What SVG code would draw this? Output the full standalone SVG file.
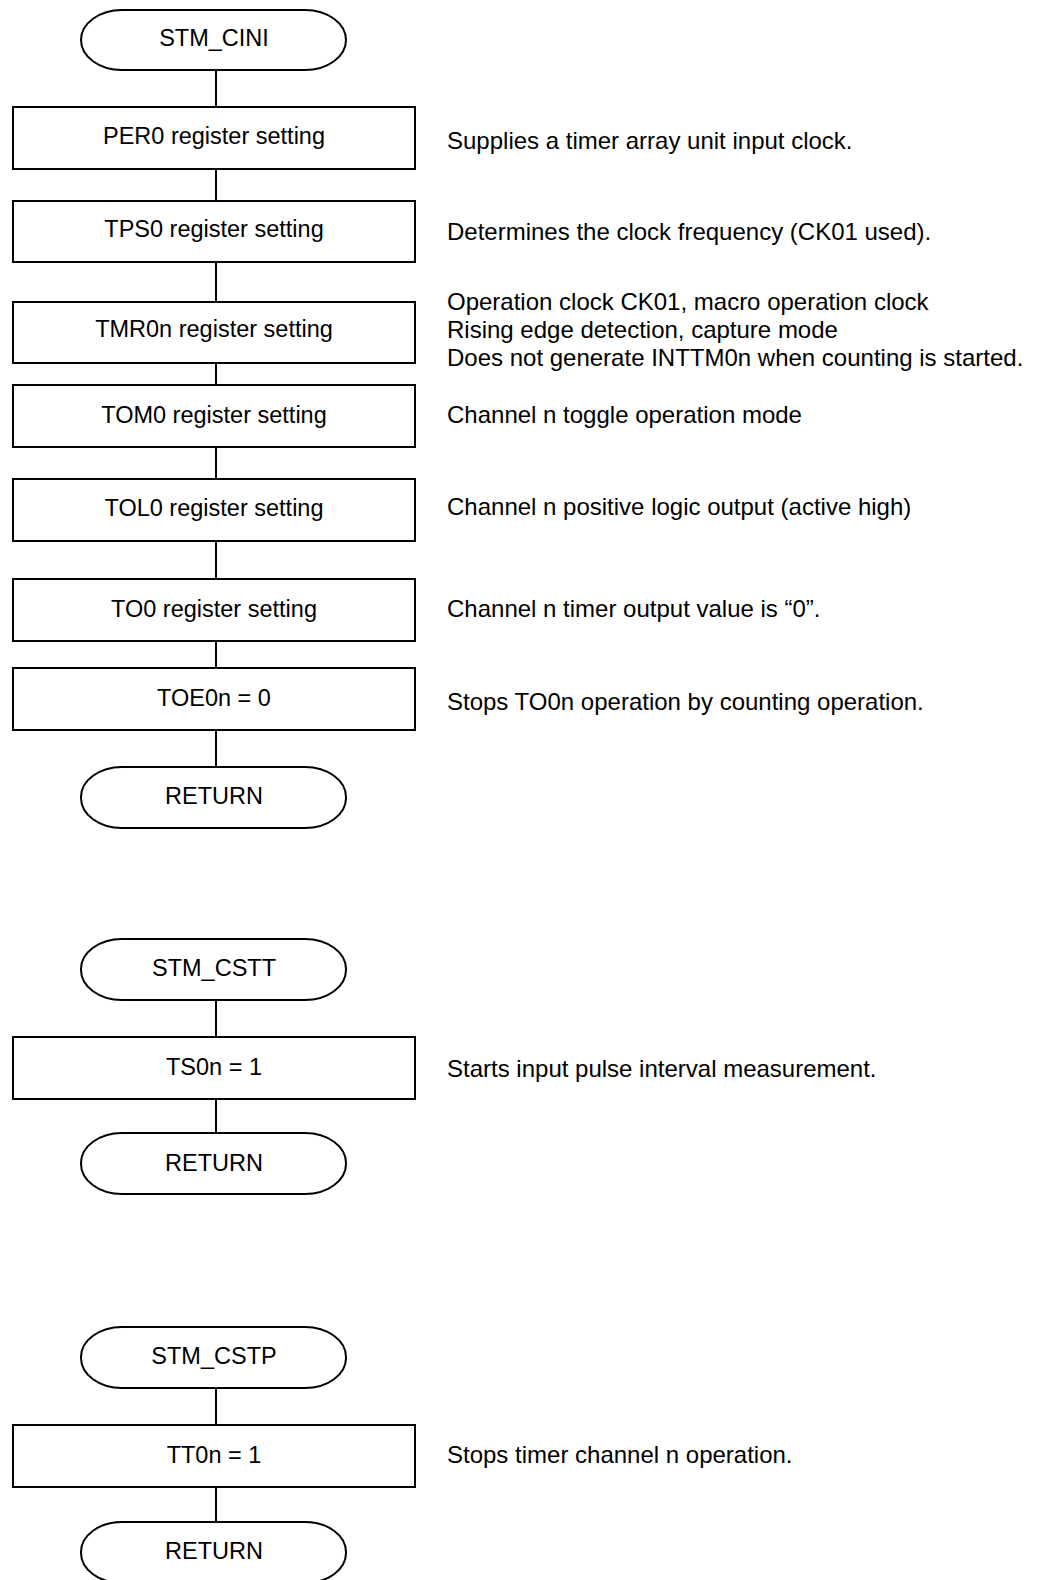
<svg xmlns="http://www.w3.org/2000/svg" width="1038" height="1580" viewBox="0 0 1038 1580">
<style>
.box{fill:#fff;stroke:#000;stroke-width:2}
.term{fill:#fff;stroke:#000;stroke-width:2}
.lbl{font-family:"Liberation Sans",Arial,sans-serif;font-size:23.5px;fill:#000;text-anchor:middle}
.note{font-family:"Liberation Sans",Arial,sans-serif;font-size:24px;fill:#000}
.conn line{stroke:#000;stroke-width:2}
</style>
<rect width="1038" height="1580" fill="#fff"/>
<g class="conn" id="connectors">
<line x1="216" y1="70" x2="216" y2="107"/>
<line x1="216" y1="169" x2="216" y2="201"/>
<line x1="216" y1="262" x2="216" y2="302"/>
<line x1="216" y1="363" x2="216" y2="385"/>
<line x1="216" y1="447" x2="216" y2="479"/>
<line x1="216" y1="541" x2="216" y2="579"/>
<line x1="216" y1="641" x2="216" y2="668"/>
<line x1="216" y1="730" x2="216" y2="767"/>
<line x1="216" y1="1000" x2="216" y2="1037"/>
<line x1="216" y1="1099" x2="216" y2="1133"/>
<line x1="216" y1="1388" x2="216" y2="1425"/>
<line x1="216" y1="1487" x2="216" y2="1522"/>
</g>
<g id="stm_cini"><rect class="term" x="81" y="10" width="265" height="60" rx="41" ry="30"/><text class="lbl" x="214" y="46">STM_CINI</text></g>
<g id="per0"><rect class="box" x="13" y="107" width="402" height="62"/><text class="lbl" x="214" y="144">PER0 register setting</text></g>
<g id="tps0"><rect class="box" x="13" y="201" width="402" height="61"/><text class="lbl" x="214" y="237">TPS0 register setting</text></g>
<g id="tmr0n"><rect class="box" x="13" y="302" width="402" height="61"/><text class="lbl" x="214" y="337">TMR0n register setting</text></g>
<g id="tom0"><rect class="box" x="13" y="385" width="402" height="62"/><text class="lbl" x="214" y="423">TOM0 register setting</text></g>
<g id="tol0"><rect class="box" x="13" y="479" width="402" height="62"/><text class="lbl" x="214" y="516">TOL0 register setting</text></g>
<g id="to0"><rect class="box" x="13" y="579" width="402" height="62"/><text class="lbl" x="214" y="617">TO0 register setting</text></g>
<g id="toe0n"><rect class="box" x="13" y="668" width="402" height="62"/><text class="lbl" x="214" y="706">TOE0n = 0</text></g>
<g id="return1"><rect class="term" x="81" y="767" width="265" height="61" rx="41" ry="30"/><text class="lbl" x="214" y="804">RETURN</text></g>
<g id="stm_cstt"><rect class="term" x="81" y="939" width="265" height="61" rx="41" ry="30"/><text class="lbl" x="214" y="976">STM_CSTT</text></g>
<g id="ts0n"><rect class="box" x="13" y="1037" width="402" height="62"/><text class="lbl" x="214" y="1075">TS0n = 1</text></g>
<g id="return2"><rect class="term" x="81" y="1133" width="265" height="61" rx="41" ry="30"/><text class="lbl" x="214" y="1171">RETURN</text></g>
<g id="stm_cstp"><rect class="term" x="81" y="1327" width="265" height="61" rx="41" ry="30"/><text class="lbl" x="214" y="1364">STM_CSTP</text></g>
<g id="tt0n"><rect class="box" x="13" y="1425" width="402" height="62"/><text class="lbl" x="214" y="1463">TT0n = 1</text></g>
<g id="return3"><rect class="term" x="81" y="1522" width="265" height="61" rx="41" ry="30"/><text class="lbl" x="214" y="1559">RETURN</text></g>
<g id="notes">
<text class="note" x="447" y="149">Supplies a timer array unit input clock.</text>
<text class="note" x="447" y="240">Determines the clock frequency (CK01 used).</text>
<text class="note" x="447" y="310">Operation clock CK01, macro operation clock</text>
<text class="note" x="447" y="338">Rising edge detection, capture mode</text>
<text class="note" x="447" y="366">Does not generate INTTM0n when counting is started.</text>
<text class="note" x="447" y="423">Channel n toggle operation mode</text>
<text class="note" x="447" y="515">Channel n positive logic output (active high)</text>
<text class="note" x="447" y="617">Channel n timer output value is “0”.</text>
<text class="note" x="447" y="710">Stops TO0n operation by counting operation.</text>
<text class="note" x="447" y="1077">Starts input pulse interval measurement.</text>
<text class="note" x="447" y="1463">Stops timer channel n operation.</text>
</g>
</svg>
